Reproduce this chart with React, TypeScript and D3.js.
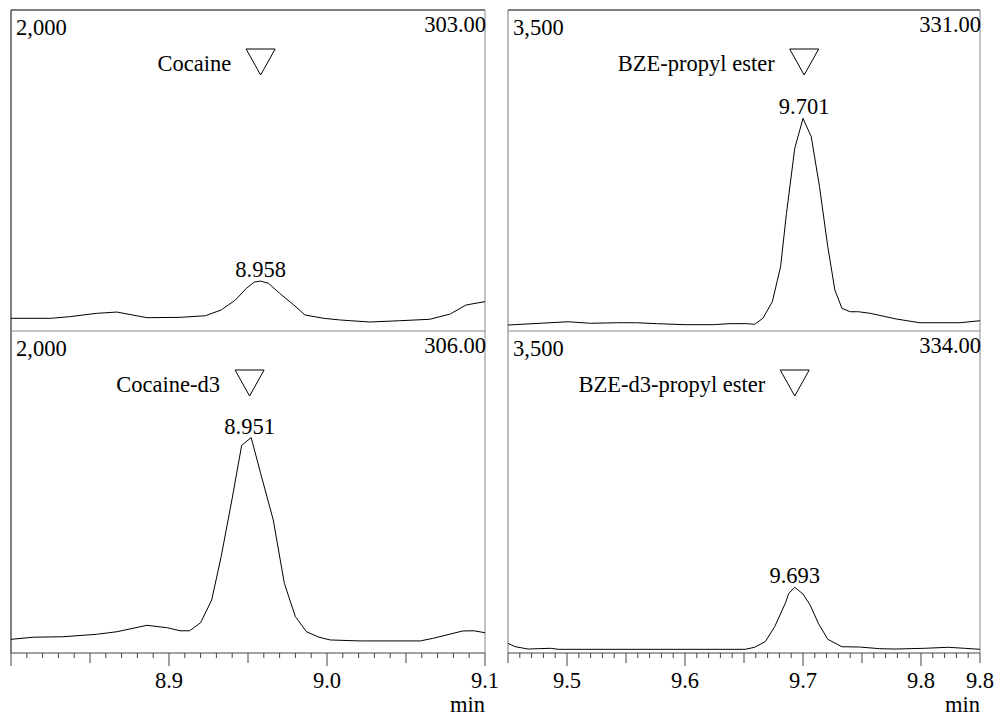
import React from 'react'
import * as d3 from 'd3'

// chromatogram traces (time in min, intensity in counts)
const cocaineTime = [8.800, 8.825, 8.837, 8.854, 8.867, 8.886, 8.907, 8.923, 8.933, 8.942, 8.949, 8.954, 8.958, 8.963, 8.970, 8.979, 8.986, 8.998, 9.008, 9.015, 9.027, 9.046, 9.065, 9.078, 9.088, 9.100]
const cocaineValue = [79, 79, 89, 110, 118, 83, 85, 95, 131, 193, 266, 305, 311, 297, 235, 162, 100, 79, 69, 64, 56, 64, 73, 106, 162, 183]

const cocaineD3Time = [8.800, 8.814, 8.833, 8.854, 8.867, 8.886, 8.899, 8.907, 8.913, 8.920, 8.927, 8.933, 8.940, 8.946, 8.952, 8.958, 8.966, 8.973, 8.980, 8.987, 8.995, 9.002, 9.021, 9.059, 9.067, 9.086, 9.093, 9.100]
const cocaineD3Value = [85, 98, 101, 116, 132, 172, 157, 138, 138, 188, 329, 598, 961, 1290, 1338, 1116, 826, 433, 226, 132, 98, 81, 75, 75, 91, 137, 138, 126]

const bzeTime = [9.450, 9.477, 9.501, 9.520, 9.542, 9.559, 9.576, 9.600, 9.624, 9.638, 9.652, 9.659, 9.666, 9.674, 9.681, 9.686, 9.693, 9.700, 9.707, 9.714, 9.721, 9.727, 9.733, 9.740, 9.747, 9.757, 9.779, 9.799, 9.833, 9.850]
const bzeValue = [65, 84, 101, 84, 90, 90, 80, 69, 69, 80, 80, 73, 138, 319, 701, 1283, 1991, 2318, 2118, 1573, 919, 447, 247, 210, 210, 193, 131, 90, 90, 112]

const bzeD3Time = [9.450, 9.456, 9.467, 9.486, 9.493, 9.550, 9.600, 9.651, 9.659, 9.668, 9.676, 9.685, 9.688, 9.693, 9.700, 9.706, 9.713, 9.721, 9.733, 9.748, 9.765, 9.778, 9.803, 9.823, 9.837, 9.850]
const bzeD3Value = [105, 69, 43, 51, 40, 40, 40, 40, 62, 123, 286, 540, 649, 714, 641, 522, 323, 149, 68, 65, 47, 43, 51, 62, 51, 40]

const compounds = ['Cocaine', 'BZE-propyl ester', 'Cocaine-d3', 'BZE-d3-propyl ester']
const massLabels = ['303.00', '331.00', '306.00', '334.00']
const maxLabels = ['2,000', '3,500', '2,000', '3,500']
const maxValues = [2000, 3500, 2000, 3500]
const retentionTimes = [8.958, 9.701, 8.951, 9.693]

const leftDomain = [8.8, 9.1]
const rightDomain = [9.45, 9.85]
const leftTickValues = [8.9, 9.0, 9.1]
const leftTickLabels = ['8.9', '9.0', '9.1']
const rightTickValues = [9.5, 9.6, 9.7, 9.8, 9.85]
const rightTickLabels = ['9.5', '9.6', '9.7', '9.8', '9.8']

const W = 996
const H = 717
const FONT = "'Liberation Serif', 'Times New Roman', Times, serif"
const FS = 22.5

const colX = [[11, 485], [508, 980]]
const rowY = [[10, 331], [331, 653]]

const txt = { fontFamily: FONT, fontSize: FS }

function Panel({ idx, times, values }) {
  const col = idx % 2
  const row = Math.floor(idx / 2)
  const [x0, x1] = colX[col]
  const [y0, y1] = rowY[row]
  const x = d3.scaleLinear().domain(col === 0 ? leftDomain : rightDomain).range([x0, x1])
  const y = d3.scaleLinear().domain([0, maxValues[idx]]).range([y1, y0])
  const pts = times.map((t, i) => [t, values[i]])
  const line = d3.line().x(d => x(d[0])).y(d => y(d[1]))
  const rt = retentionTimes[idx]
  // apex = highest read value
  const apex = d3.max(values)
  const tipX = x(rt)
  const tri = `M${tipX - 14.5},${y0 + 39}L${tipX + 14.5},${y0 + 39}L${tipX},${y0 + 65}Z`
  return (
    <g>
      <path d={line(pts)} fill="none" stroke="#000" strokeWidth={1} />
      <text x={x0 + 5} y={y0 + 25} style={txt}>{maxLabels[idx]}</text>
      <text x={x1 + 1} y={y0 + 22} style={txt} textAnchor="end">{massLabels[idx]}</text>
      <text x={tipX - 29.5} y={y0 + 60.5} style={txt} textAnchor="end">{compounds[idx]}</text>
      <path d={tri} fill="none" stroke="#000" strokeWidth={1} />
      <text x={tipX} y={y(apex) - 4} style={txt} textAnchor="middle">{rt.toFixed(3)}</text>
    </g>
  )
}

function Axis({ col }) {
  const [x0, x1] = colX[col]
  const yb = rowY[1][1]
  const x = d3.scaleLinear().domain(col === 0 ? leftDomain : rightDomain).range([x0, x1])
  const span = x.domain()[1] - x.domain()[0]
  const ticks = x.ticks(Math.round(span / 0.01))
  const vals = col === 0 ? leftTickValues : rightTickValues
  const labs = col === 0 ? leftTickLabels : rightTickLabels
  return (
    <g>
      <line x1={x0} x2={x1} y1={yb} y2={yb} stroke="#444" />
      {ticks.map((t, i) => {
        const k = Math.round(t * 100)
        const len = k % 10 === 0 ? 13 : k % 5 === 0 ? 10 : 5
        return <line key={i} x1={x(t)} x2={x(t)} y1={yb} y2={yb + len} stroke="#444" />
      })}
      {vals.map((v, i) => (
        <text key={i} x={x(v)} y={688} style={txt} textAnchor="middle">{labs[i]}</text>
      ))}
      <text x={x1} y={712} style={txt} textAnchor="end">min</text>
    </g>
  )
}

export default function App() {
  const series = [
    [cocaineTime, cocaineValue],
    [bzeTime, bzeValue],
    [cocaineD3Time, cocaineD3Value],
    [bzeD3Time, bzeD3Value],
  ]
  return (
    <svg width={W} height={H} style={{ position: 'absolute', left: 0, top: 0, background: '#fff' }}>
      <rect width={W} height={H} fill="#fff" />
      {colX.map(([a, b], c) => (
        <g key={c}>
          <line x1={a} x2={b} y1={rowY[0][0]} y2={rowY[0][0]} stroke="#000" />
          <line x1={a} x2={a} y1={rowY[0][0]} y2={rowY[1][1]} stroke={c === 0 ? '#000' : '#777'} />
          <line x1={b} x2={b} y1={rowY[0][0]} y2={rowY[1][1]} stroke="#888" />
          <line x1={a} x2={b} y1={rowY[0][1]} y2={rowY[0][1]} stroke="#888" />
        </g>
      ))}
      {series.map(([t, v], i) => <Panel key={i} idx={i} times={t} values={v} />)}
      <Axis col={0} />
      <Axis col={1} />
    </svg>
  )
}
